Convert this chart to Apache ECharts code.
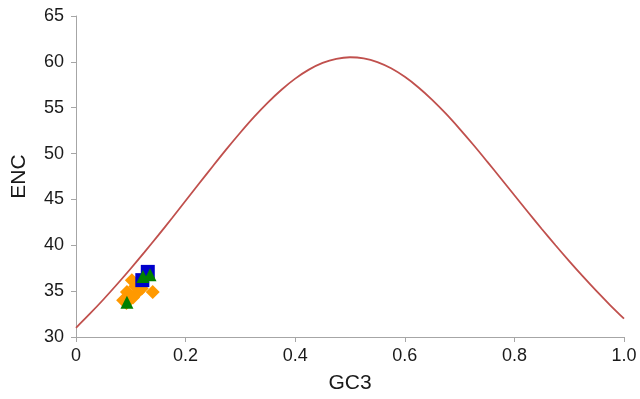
<!DOCTYPE html>
<html>
<head>
<meta charset="utf-8">
<script src="https://cdn.jsdelivr.net/npm/echarts@6/dist/echarts.min.js"></script>
<style>
html, body { margin: 0; padding: 0; background: #fff; }
#main { width: 640px; height: 399px; }
</style>
</head>
<body>
<div id="main"></div>
<script>
// expected ENC curve, every 0.025 of GC3
var curveX = [0, 0.025, 0.05, 0.075, 0.1, 0.125, 0.15, 0.175, 0.2, 0.225, 0.25,
    0.275, 0.3, 0.325, 0.35, 0.375, 0.4, 0.425, 0.45, 0.475, 0.5,
    0.525, 0.55, 0.575, 0.6, 0.625, 0.65, 0.675, 0.7, 0.725, 0.75,
    0.775, 0.8, 0.825, 0.85, 0.875, 0.9, 0.925, 0.95, 0.975, 1.0];
var curveY = [31, 32.51, 34.09, 35.75, 37.47, 39.25, 41.08, 42.95, 44.85, 46.76, 48.65,
    50.51, 52.3, 54.0, 55.56, 56.96, 58.17, 59.15, 59.88, 60.33, 60.5,
    60.38, 59.98, 59.3, 58.37, 57.21, 55.86, 54.35, 52.7, 50.96, 49.15,
    47.31, 45.45, 43.6, 41.78, 40.0, 38.27, 36.6, 34.99, 33.46, 32];

// observed genes
var orangeX = [0.102, 0.093, 0.086, 0.113, 0.104, 0.140, 0.108, 0.120, 0.092];
var orangeY = [36.2, 34.9, 34.0, 34.9, 34.3, 34.9, 35.5, 35.3, 33.7];
var blueX = [0.131, 0.121];
var blueY = [37.1, 36.2];
var greenX = [0.122, 0.135, 0.093];
var greenY = [36.6, 36.8, 33.8];

function pairs(xs, ys) {
    return xs.map(function (x, i) { return [x, ys[i]]; });
}

var chartDom = document.getElementById('main');
var myChart = echarts.init(chartDom, null, { renderer: 'canvas' });

var axisFont = { fontFamily: 'Liberation Sans', fontSize: 18, color: '#1a1a1a' };
var nameFont = { fontFamily: 'Liberation Sans', fontSize: 21, color: '#1a1a1a' };
var option = {
    animation: false,
    grid: { left: 76, right: 16, top: 16, bottom: 62 },
    xAxis: {
        type: 'value',
        min: 0, max: 1, interval: 0.2,
        name: 'GC3',
        nameLocation: 'middle',
        nameGap: 36,
        nameTextStyle: nameFont,
        axisLine: { show: true, lineStyle: { color: '#a6a6a6', width: 1 } },
        axisTick: { show: true, length: 5, lineStyle: { color: '#a6a6a6' } },
        splitLine: { show: false },
        axisLabel: Object.assign({
            margin: 10,
            formatter: function (v) { return v === 0 ? '0' : v.toFixed(1); }
        }, axisFont)
    },
    yAxis: {
        type: 'value',
        min: 30, max: 65, interval: 5,
        name: 'ENC',
        nameLocation: 'middle',
        nameGap: 46,
        nameRotate: 90,
        nameTextStyle: nameFont,
        axisLine: { show: true, lineStyle: { color: '#a6a6a6', width: 1 } },
        axisTick: { show: true, length: 5, lineStyle: { color: '#a6a6a6' } },
        splitLine: { show: false },
        axisLabel: Object.assign({ margin: 12 }, axisFont)
    },
    series: [
        {
            type: 'line',
            data: pairs(curveX, curveY),
            smooth: 0.3,
            symbol: 'none',
            lineStyle: { color: '#c0504d', width: 1.8 },
            z: 2
        },
        {
            type: 'scatter',
            data: pairs(orangeX, orangeY),
            symbol: 'diamond',
            symbolSize: 14,
            itemStyle: { color: '#ff9900', opacity: 1 },
            z: 3
        },
        {
            type: 'scatter',
            data: pairs(blueX, blueY),
            symbol: 'rect',
            symbolSize: 14,
            itemStyle: { color: '#0000cc', opacity: 1 },
            z: 4
        },
        {
            type: 'scatter',
            data: pairs(greenX, greenY),
            symbol: 'triangle',
            symbolSize: 13,
            itemStyle: { color: '#008000', opacity: 1 },
            z: 5
        }
    ]
};
option && myChart.setOption(option);
</script>
</body>
</html>
